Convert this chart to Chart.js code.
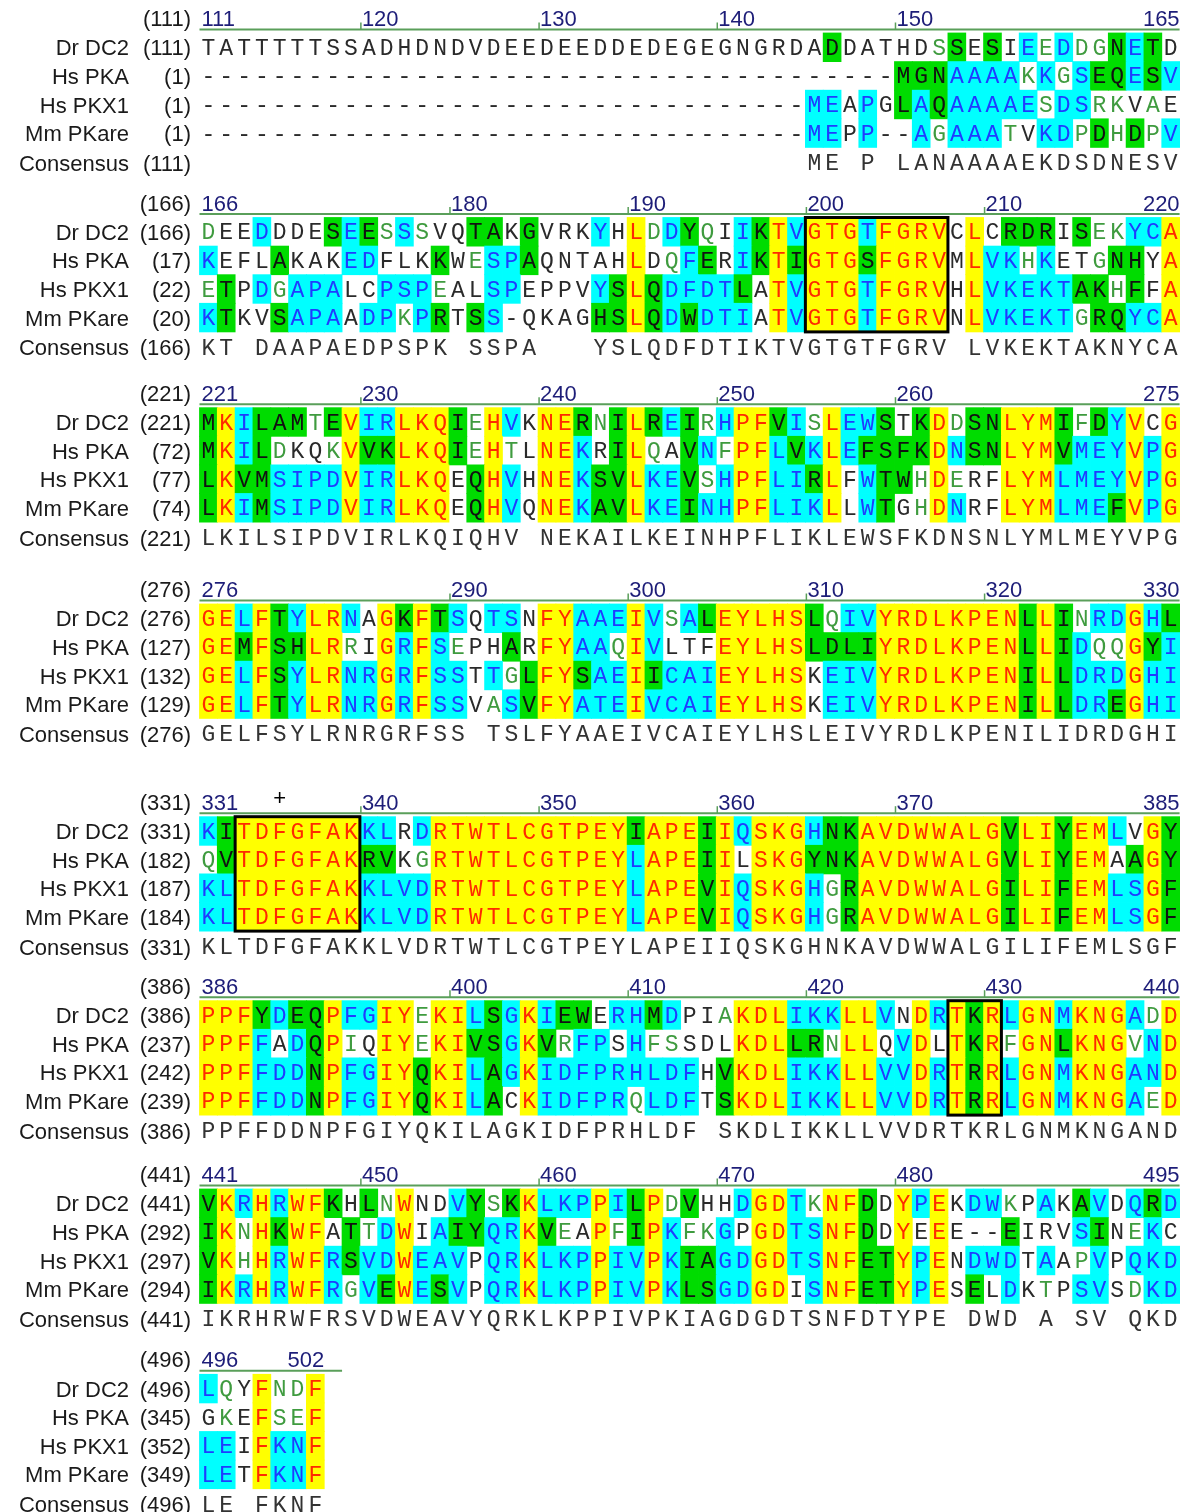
<!DOCTYPE html>
<html>
<head>
<meta charset="utf-8">
<title>Alignment Dr DC2 / Hs PKA / Hs PKX1 / Mm PKare</title>
<script src="https://cdn.jsdelivr.net/npm/chart.js"></script>
<style>
html,body{margin:0;padding:0;background:#ffffff;overflow:hidden}
canvas{display:block}
</style>
</head>
<body>
<canvas id="c" width="1190" height="1512"></canvas>
<script>
// ---------------- DATA ----------------
const blockStarts = [111, 166, 221, 276, 331, 386, 441, 496];
const rulerTicks = [
  [111, 120, 130, 140, 150, 165],
  [166, 180, 190, 200, 210, 220],
  [221, 230, 240, 250, 260, 275],
  [276, 290, 300, 310, 320, 330],
  [331, 340, 350, 360, 370, 385],
  [386, 400, 410, 420, 430, 440],
  [441, 450, 460, 470, 480, 495],
  [496, 502]
];

const drDC2Starts   = [111, 166, 221, 276, 331, 386, 441, 496];
const hsPKAStarts   = [1, 17, 72, 127, 182, 237, 292, 345];
const hsPKX1Starts  = [1, 22, 77, 132, 187, 242, 297, 352];
const mmPKareStarts = [1, 20, 74, 129, 184, 239, 294, 349];

const drDC2Seq = [
  "TATTTTTSSADHDNDVDEEDEEDDEDEGEGNGRDADDATHDSSESIEEDDGNETD",
  "DEEDDDESEESSSVQTAKGVRKYHLDDYQIIKTVGTGTFGRVCLCRDRISEKYCA",
  "MKILAMTEVIRLKQIEHVKNERNILREIRHPFVISLEWSTKDDSNLYMIFDYVCG",
  "GELFTYLRNAGKFTSQTSNFYAAEIVSALEYLHSLQIVYRDLKPENLLINRDGHL",
  "KITDFGFAKKLRDRTWTLCGTPEYIAPEIIQSKGHNKAVDWWALGVLIYEMLVGY",
  "PPFYDEQPFGIYEKILSGKIEWERHMDPIAKDLIKKLLVNDRTKRLGNMKNGADD",
  "VKRHRWFKHLNWNDVYSKKLKPPILPDVHHDGDTKNFDDYPEKDWKPAKAVDQRD",
  "LQYFNDF"
];
const hsPKASeq = [
  "---------------------------------------MGNAAAAKKGSEQESV",
  "KEFLAKAKEDFLKKWESPAQNTAHLDQFERIKTIGTGSFGRVMLVKHKETGNHYA",
  "MKILDKQKVVKLKQIEHTLNEKRILQAVNFPFLVKLEFSFKDNSNLYMVMEYVPG",
  "GEMFSHLRRIGRFSEPHARFYAAQIVLTFEYLHSLDLIYRDLKPENLLIDQQGYI",
  "QVTDFGFAKRVKGRTWTLCGTPEYLAPEIILSKGYNKAVDWWALGVLIYEMAAGY",
  "PPFFADQPIQIYEKIVSGKVRFPSHFSSDLKDLLRNLLQVDLTKRFGNLKNGVND",
  "IKNHKWFATTDWIAIYQRKVEAPFIPKFKGPGDTSNFDDYEEE--EIRVSINEKC",
  "GKEFSEF"
];
const hsPKX1Seq = [
  "----------------------------------MEAPGLAQAAAAESDSRKVAE",
  "ETPDGAPALCPSPEALSPEPPVYSLQDFDTLATVGTGTFGRVHLVKEKTAKHFFA",
  "LKVMSIPDVIRLKQEQHVHNEKSVLKEVSHPFLIRLFWTWHDERFLYMLMEYVPG",
  "GELFSYLRNRGRFSSTTGLFYSAEIICAIEYLHSKEIVYRDLKPENILLDRDGHI",
  "KLTDFGFAKKLVDRTWTLCGTPEYLAPEVIQSKGHGRAVDWWALGILIFEMLSGF",
  "PPFFDDNPFGIYQKILAGKIDFPRHLDFHVKDLIKKLLVVDRTRRLGNMKNGAND",
  "VKHHRWFRSVDWEAVPQRKLKPPIVPKIAGDGDTSNFETYPENDWDTAAPVPQKD",
  "LEIFKNF"
];
const mmPKareSeq = [
  "----------------------------------MEPP--AGAAATVKDPDHDPV",
  "KTKVSAPAADPKPRTSS-QKAGHSLQDWDTIATVGTGTFGRVNLVKEKTGRQYCA",
  "LKIMSIPDVIRLKQEQHVQNEKAVLKEINHPFLIKLLWTGHDNRFLYMLMEFVPG",
  "GELFTYLRNRGRFSSVASVFYATEIVCAIEYLHSKEIVYRDLKPENILLDREGHI",
  "KLTDFGFAKKLVDRTWTLCGTPEYLAPEVIQSKGHGRAVDWWALGILIFEMLSGF",
  "PPFFDDNPFGIYQKILACKIDFPRQLDFTSKDLIKKLLVVDRTRRLGNMKNGAED",
  "IKRHRWFRGVEWESVPQRKLKPPIVPKLSGDGDISNFETYPESELDKTPSVSDKD",
  "LETFKNF"
];
const consensusSeq = [
  "                                  ME P LANAAAAEKDSDNESV",
  "KT DAAPAEDPSPK SSPA   YSLQDFDTIKTVGTGTFGRV LVKEKTAKNYCA",
  "LKILSIPDVIRLKQIQHV NEKAILKEINHPFLIKLEWSFKDNSNLYMLMEYVPG",
  "GELFSYLRNRGRFSS TSLFYAAEIVCAIEYLHSLEIVYRDLKPENILIDRDGHI",
  "KLTDFGFAKKLVDRTWTLCGTPEYLAPEIIQSKGHNKAVDWWALGILIFEMLSGF",
  "PPFFDDNPFGIYQKILAGKIDFPRHLDF SKDLIKKLLVVDRTKRLGNMKNGAND",
  "IKRHRWFRSVDWEAVYQRKLKPPIVPKIAGDGDTSNFDTYPE DWD A SV QKD",
  "LE FKNF"
];

// shading class per residue: Y identical, B conserved, G similar, g weakly similar, w non-similar
const drDC2Shade = [
  "wwwwwwwwww"+"wwwwwwwwww"+"wwwwwwwwww"+"wwwwwGwwww"+"wgGwGwBgBg"+"gGBGw",
  "gwwBwwwGBG"+"gBgwwGGwGw"+"wwBwYgBGgw"+"BGYBYYYBYY"+"YYwYwGGGwG"+"ggBBY",
  "GYBGGGgGYB"+"BYYYGgYBwY"+"YGgGYGBGgB"+"YYGBgYBBGw"+"GYgGGYYYGg"+"GBYwY",
  "YYBYGBYYBw"+"YGYGBwBBwY"+"YBBBYBgBGY"+"YYYYGgBBYY"+"YYYYYYGYGg"+"BBYBG",
  "BGYYYYYYYB"+"BwBYYYYYYY"+"YYYYGYYYGY"+"BYYYBGGYYY"+"YYYYYGYYGY"+"YBwYG",
  "YYYGBGGYBB"+"YYgYYBGBYB"+"GGwBBGBwwg"+"YYYBBBYYBw"+"YBYGYBYYBY"+"YYBgY",
  "GYBYBYYGwG"+"gYwwBGgGYB"+"BBYBGYgGww"+"BYYBgYYGwY"+"BYwBBgwBwG"+"BwBGB",
  "BgwYggY"
];
const hsPKAShade = [
  "wwwwwwwwww"+"wwwwwwwwww"+"wwwwwwwwww"+"wwwwwwwwwG"+"GGBBBBgBgB"+"GGBGB",
  "BwwwGwwwBB"+"wwwGwgBBGw"+"wwwwYwgBGw"+"BGYGYYYGYY"+"YYwYBBgBww"+"gGGwY",
  "GYBGgwwgYG"+"GYYYGgYgwY"+"YBwGYgwGBg"+"YYBGBYBGGG"+"GYBGGYYYGB"+"BBYBY",
  "YYGYGGYYgw"+"YBYBgwwGwY"+"YBBgYBwwwY"+"YYYYGGGGYY"+"YYYYYYGYGB"+"ggYGB",
  "gGYYYYYYYG"+"GwgYYYYYYY"+"YYYYBYYYGY"+"wYYYGGGYYY"+"YYYYYGYYGY"+"YwGYG",
  "YYYBwBGYgw"+"YYgYYGGBYG"+"gBBwBggwww"+"YYYGGgYYwB"+"YwYGYgYYGY"+"YYgBY",
  "GYgYGYYwGg"+"BYwBGGBBYG"+"gwYgGYBggB"+"wYYBBYYGwY"+"wYwwwGwwwB"+"GwgBw",
  "wgwYggY"
];
const hsPKX1Shade = [
  "wwwwwwwwww"+"wwwwwwwwww"+"wwwwwwwwww"+"wwwwBBwBwG"+"BGBBBBBgBB"+"ggwgw",
  "gGwBgBBBww"+"BBBgwwBBww"+"wwBGYGBBBB"+"GwYBYYYBYY"+"YYwYBBBBBG"+"GgGwY",
  "GYGGBBBBYB"+"BYYYwGYBwY"+"YBGGYBBGgB"+"YYBBGYwBGG"+"gYgwwYYYBB"+"BBYBY",
  "YYBYGBYYBB"+"YBYBBwBgGY"+"YGBBYGBBBY"+"YYYYwBBBYY"+"YYYYYYGYGB"+"BBYBB",
  "BBYYYYYYYB"+"BBBYYYYYYY"+"YYYYBYYYGY"+"BYYYBgGYYY"+"YYYYYGYYGY"+"YBBYG",
  "YYYBBBGYBB"+"YYGYYBGBYB"+"BBBBBBBBwG"+"YYYBBBYYBB"+"YBYGYBYYBY"+"YYBBY",
  "GYgYBYYBGB"+"BYBBBwBBYB"+"BBYBBYBGGB"+"BYYBBYYGGY"+"BYwBBBwBwg"+"BwBBB",
  "BBwYBBY"
];
const mmPKareShade = [
  "wwwwwwwwww"+"wwwwwwwwww"+"wwwwwwwwww"+"wwwwBBwBww"+"BgBBBgwBBg"+"GgGgB",
  "BGwwGBBBwB"+"BgBGwGBwww"+"wwGGYGBGBB"+"BwYBYYYBYY"+"YYwYBBBBBg"+"GGBBY",
  "GYBGBBBBYB"+"BYYYwGYBwY"+"YBGGYBBGBB"+"YYBBBYwBGw"+"gYBwwYYYBB"+"BGYBY",
  "YYBYGBYYBB"+"YBYBBwgBGY"+"YBBBYBBBBY"+"YYYYwBBBYY"+"YYYYYYGYGB"+"BGYBB",
  "BBYYYYYYYB"+"BBBYYYYYYY"+"YYYYBYYYGY"+"BYYYBgGYYY"+"YYYYYGYYGY"+"YBBYG",
  "YYYBBBGYBB"+"YYGYYBGwYB"+"BBBBgBBBwG"+"YYYBBBYYBB"+"YBYGYBYYBY"+"YYBgY",
  "GYBYBYYBgB"+"GYBGBwBBYB"+"BBYBBYBGGB"+"BYYwBYYGGY"+"BYwGwBwgwB"+"BwgBB",
  "BBwYBBY"
];

// boxed motifs (alignment positions) and marker
const motifBoxes = [[200, 207], [333, 339], [428, 430]];
const markerPositions = [335];

// ---------------- LAYOUT / STYLE ----------------
const CELL_LEFT = 199.5;          // px of column-1 left edge
const CELL_W = 17.82;             // px per alignment column
const X_MIN = 0.5 - CELL_LEFT / CELL_W;
const X_MAX = X_MIN + 1190 / CELL_W;
const BLOCK_TOP = [33, 217.5, 407.7, 604, 816.7, 1000.7, 1189, 1374.3];
const ROW_H = 28.6;
const RULER_COLS = [55, 55, 55, 55, 55, 55, 55, 8];
const NAME_RIGHT = 129, NUM_RIGHT = 191;
const LABEL_FONT = "22px 'Liberation Sans', Arial, sans-serif";
const SEQ_FONT = "23px 'Liberation Mono', 'DejaVu Sans Mono', monospace";
const RULER_GREEN = "#5a9f5a";
const RULER_NAVY = "#1d1d78";
const SHADE = {
  Y: {bg: "#ffff00", fg: "#ff2a00"},
  B: {bg: "#00ffff", fg: "#1f3cff"},
  G: {bg: "#00dc00", fg: "#111111"},
  w: {bg: null,      fg: "#2a2a2a"},
  g: {bg: null,      fg: "#3f9b3f"},
  c: {bg: null,      fg: "#333333"}
};

const rows = [
  {name: "Dr DC2",   seq: drDC2Seq,   shade: drDC2Shade,   starts: drDC2Starts},
  {name: "Hs PKA",   seq: hsPKASeq,   shade: hsPKAShade,   starts: hsPKAStarts},
  {name: "Hs PKX1",  seq: hsPKX1Seq,  shade: hsPKX1Shade,  starts: hsPKX1Starts},
  {name: "Mm PKare", seq: mmPKareSeq, shade: mmPKareShade, starts: mmPKareStarts},
  {name: "Consensus", seq: consensusSeq, shade: null,      starts: blockStarts}
];

// shaded cells as floating bars
const cellData = [], cellColors = [];
rows.forEach((row, r) => {
  if (!row.shade) return;
  row.seq.forEach((s, b) => {
    for (let i = 0; i < s.length; i++) {
      const code = row.shade[b][i];
      const st = SHADE[code];
      if (!st || !st.bg) continue;
      const top = BLOCK_TOP[b] + r * ROW_H;
      cellData.push({x: i + 1, y: [top, top + ROW_H]});
      cellColors.push(st.bg);
    }
  });
});

const alignmentText = {
  id: "alignmentText",
  afterDatasetsDraw(chart) {
    const ctx = chart.ctx;
    const xs = chart.scales.x, ys = chart.scales.y;
    const X = v => xs.getPixelForValue(v);
    const Y = v => ys.getPixelForValue(v);
    ctx.save();
    ctx.textBaseline = "alphabetic";
    blockStarts.forEach((start, b) => {
      const top = BLOCK_TOP[b];
      const headY = Y(top - 15) + 8;
      const lineY = Y(top - 3.5);
      // header label
      ctx.font = LABEL_FONT;
      ctx.fillStyle = "#1a1a1a";
      ctx.textAlign = "right";
      ctx.fillText("(" + start + ")", NUM_RIGHT, headY);
      // ruler line
      ctx.strokeStyle = RULER_GREEN;
      ctx.lineWidth = 2;
      ctx.beginPath();
      ctx.moveTo(X(0.5), lineY);
      ctx.lineTo(X(RULER_COLS[b] + 0.5), lineY);
      ctx.stroke();
      // ruler numbers
      const ticks = rulerTicks[b];
      ctx.fillStyle = RULER_NAVY;
      ticks.forEach((t, k) => {
        const col = t - start + 1;
        if (k === 0) {
          ctx.textAlign = "left";
          ctx.fillText(String(t), X(col - 0.5) + 2, headY);
        } else if (k === ticks.length - 1) {
          ctx.textAlign = "right";
          ctx.fillText(String(t), X(col + 0.5), headY);
        } else {
          const tx = X(col - 0.5) + 1;
          ctx.lineWidth = 1.5;
          ctx.beginPath();
          ctx.moveTo(tx, lineY);
          ctx.lineTo(tx, lineY - 7);
          ctx.stroke();
          ctx.textAlign = "left";
          ctx.fillText(String(t), tx + 1, headY);
        }
      });
      // sequence rows
      rows.forEach((row, r) => {
        const cy = r < 4 ? top + (r + 0.5) * ROW_H : top + 4 * ROW_H + 15.5;
        const py = Y(cy);
        ctx.font = LABEL_FONT;
        ctx.fillStyle = "#1a1a1a";
        ctx.textAlign = "right";
        ctx.fillText(row.name, NAME_RIGHT, py + 8);
        ctx.fillText("(" + row.starts[b] + ")", NUM_RIGHT, py + 8);
        ctx.font = SEQ_FONT;
        ctx.textAlign = "center";
        const s = row.seq[b];
        for (let i = 0; i < s.length; i++) {
          const ch = s[i];
          if (ch === " ") continue;
          const code = row.shade ? row.shade[b][i] : "c";
          ctx.fillStyle = (SHADE[code] || SHADE.w).fg;
          ctx.fillText(ch, X(i + 1), py + 7.5);
        }
      });
    });
    // motif boxes
    ctx.strokeStyle = "#000000";
    ctx.lineWidth = 3;
    motifBoxes.forEach(([from, to]) => {
      const b = blockStarts.findIndex((s, k) => from >= s && from < s + 55);
      const c1 = from - blockStarts[b] + 1, c2 = to - blockStarts[b] + 1;
      const top = BLOCK_TOP[b];
      const x1 = X(c1 - 0.5), x2 = X(c2 + 0.5);
      const y1 = Y(top), y2 = Y(top + 4 * ROW_H);
      ctx.strokeRect(x1, y1, x2 - x1, y2 - y1);
    });
    // marker
    ctx.font = LABEL_FONT;
    ctx.fillStyle = "#000000";
    ctx.textAlign = "center";
    markerPositions.forEach(p => {
      const b = blockStarts.findIndex((s) => p >= s && p < s + 55);
      const c = p - blockStarts[b] + 1;
      ctx.fillText("+", X(c), Y(BLOCK_TOP[b] - 15) + 3);
    });
    ctx.restore();
  }
};

new Chart(document.getElementById("c"), {
  type: "bar",
  data: {
    datasets: [{
      label: "shading",
      data: cellData,
      backgroundColor: cellColors,
      borderWidth: 0,
      barPercentage: 1,
      categoryPercentage: 1,
      barThickness: CELL_W,
      inflateAmount: 0.4
    }]
  },
  options: {
    responsive: false,
    devicePixelRatio: 1,
    animation: false,
    events: [],
    layout: {padding: 0},
    plugins: {legend: {display: false}, tooltip: {enabled: false}, title: {display: false}},
    scales: {
      x: {type: "linear", display: false, min: X_MIN, max: X_MAX, offset: false},
      y: {type: "linear", display: false, min: 0, max: 1512, reverse: true}
    }
  },
  plugins: [alignmentText]
});
</script>
</body>
</html>
